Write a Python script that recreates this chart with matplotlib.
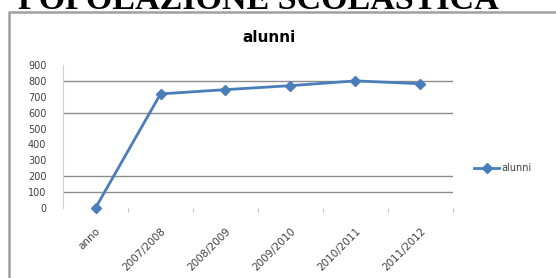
import matplotlib.pyplot as plt
from matplotlib.lines import Line2D

categories = ["anno", "2007/2008", "2008/2009", "2009/2010", "2010/2011", "2011/2012"]
alunni = [0, 718, 745, 770, 800, 782]
y_ticks = [0, 100, 200, 300, 400, 500, 600, 700, 800, 900]
grid_levels = [100, 200, 600, 800]

W, H = 556, 278
fig = plt.figure(figsize=(W / 100, H / 100), dpi=100)

# outer chart frame: only its left and top edges are inside the picture
fig.lines.append(Line2D([9 / W, 9 / W, 1.0], [0.0, 1 - 12 / H, 1 - 12 / H],
                        transform=fig.transFigure, color="#a0a0a0", linewidth=1.8))

fig.text(18 / W, 1 - 9 / H, "POPOLAZIONE SCOLASTICA", family="Liberation Serif",
         fontweight="bold", fontsize=24.5, va="baseline", ha="left")

ax = fig.add_axes([63 / W, 1 - 208 / H, (453 - 63) / W, (208 - 65) / H])
x = list(range(len(categories)))
for g in grid_levels:
    ax.axhline(g, color="#8c8c8c", linewidth=1.0, zorder=1)
ax.plot(x, alunni, color="#4a7ebb", linewidth=2, marker="D", markersize=5,
        label="alunni", zorder=3, clip_on=False)

ax.set_xlim(-0.5, len(categories) - 0.5)
ax.set_ylim(0, 900)
ax.set_yticks(y_ticks)
ax.tick_params(axis="y", length=0, labelsize=7, labelcolor="#404040", pad=12)
ax.set_xticks([i + 0.5 for i in x])
ax.set_xticklabels([])
ax.set_xticks(x, minor=True)
ax.set_xticklabels(categories, minor=True, rotation=45, ha="right",
                   rotation_mode="anchor", fontsize=7.5, color="#404040")
ax.tick_params(axis="x", which="major", length=3, color="#c0c0c0")
ax.tick_params(axis="x", which="minor", length=0, pad=13)
for s in ["top", "right", "bottom"]:
    ax.spines[s].set_visible(False)
ax.spines["left"].set_color("#d0d0d0")

fig.text(269 / W, 1 - 38 / H, "alunni", fontweight="bold", fontsize=11,
         ha="center", va="center")

fig.legend(loc="center left", bbox_to_anchor=(470 / W, 1 - 168 / H), frameon=False,
           fontsize=7, handlelength=2.6, labelcolor="#404040", borderaxespad=0,
           handletextpad=0.2)

fig.savefig("out.png", dpi=100)
